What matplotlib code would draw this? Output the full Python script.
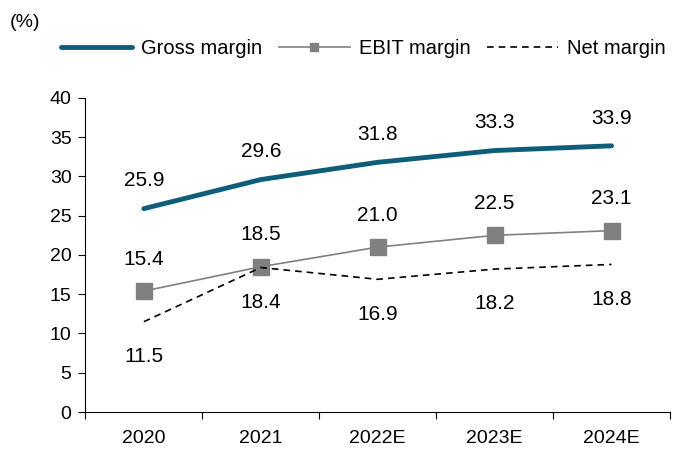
import matplotlib.pyplot as plt

plt.rcParams['font.family'] = ['Liberation Sans', 'DejaVu Sans']
plt.rcParams['font.size'] = 14

years = ["2020", "2021", "2022E", "2023E", "2024E"]
gross = [25.9, 29.6, 31.8, 33.3, 33.9]
ebit = [15.4, 18.5, 21.0, 22.5, 23.1]
net = [11.5, 18.4, 16.9, 18.2, 18.8]

fig = plt.figure(figsize=(6.83, 4.5), dpi=100)
ax = fig.add_axes([0.125, 0.0844, 0.856, 0.698])

x = list(range(len(years)))
ax.plot(x, gross, color='#0E5E7A', lw=3.5, label='Gross margin', solid_capstyle='round')
ax.plot(x, ebit, color='#808080', lw=1.2, marker='s', markersize=11,
        markerfacecolor='#808080', markeredgecolor='#808080', label='EBIT margin')
ax.plot(x, net, color='black', lw=1.2, ls=(0, (4, 3)), label='Net margin')

for xi, v in zip(x, gross):
    ax.annotate(f"{v:.1f}", (xi, v), xytext=(0, 20), textcoords='offset points',
                ha='center', va='center', fontsize=15)
for xi, v in zip(x, ebit):
    ax.annotate(f"{v:.1f}", (xi, v), xytext=(0, 23), textcoords='offset points',
                ha='center', va='center', fontsize=15)
for xi, v in zip(x, net):
    ax.annotate(f"{v:.1f}", (xi, v), xytext=(0, -25), textcoords='offset points',
                ha='center', va='center', fontsize=15)

ax.set_xlim(-0.5, len(years) - 0.5)
ax.set_ylim(0, 40)
ax.set_yticks(range(0, 41, 5))
ax.set_xticks([i - 0.5 for i in range(len(years) + 1)])
ax.set_xticklabels([])
ax.set_xticks(x, minor=True)
ax.set_xticklabels(years, minor=True)
ax.tick_params(axis='x', which='minor', length=0, pad=13)
ax.tick_params(axis='x', which='major', direction='out', length=5)
ax.tick_params(axis='y', direction='out', length=5, pad=5)
for s in ['top', 'right']:
    ax.spines[s].set_visible(False)

fig.text(0.015, 0.95, "(%)", ha='left', va='center')
fig.legend(loc='center', bbox_to_anchor=(0.532, 0.893), ncol=3, frameon=False,
           handlelength=3.5, columnspacing=0.85, handletextpad=0.45, markerscale=0.55,
           fontsize=14.5)

fig.savefig("out.png", dpi=100)
